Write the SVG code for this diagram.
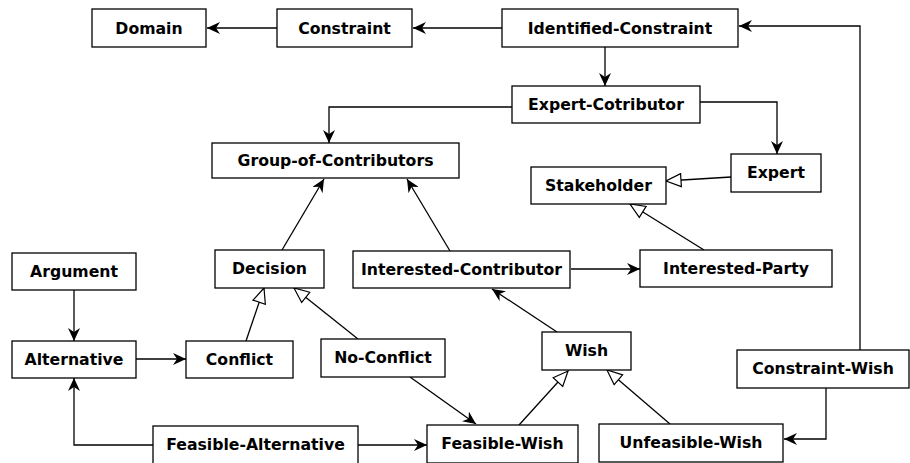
<svg xmlns="http://www.w3.org/2000/svg" width="910" height="463" viewBox="0 0 910 463">
<style>
.box{fill:#fff;stroke:#000;stroke-width:1.3}
.lbl{font-family:"DejaVu Sans",sans-serif;font-weight:bold;font-size:15.7px;text-anchor:middle;fill:#000}
.c{fill:none;stroke:#000;stroke-width:1.3}
.a{marker-end:url(#arr)}
.g{marker-end:url(#tri)}
</style>
<defs>
<marker id="arr" viewBox="0 0 13 12" refX="13" refY="6" markerWidth="13" markerHeight="12" markerUnits="userSpaceOnUse" orient="auto">
<path d="M0,0 L13,6 L0,12 L4,6 z" fill="#000"/>
</marker>
<marker id="tri" viewBox="-1 -1 17 15" refX="15" refY="6.5" markerWidth="17" markerHeight="15" markerUnits="userSpaceOnUse" orient="auto">
<path d="M0,0 L15,6.5 L0,13 z" fill="#fff" stroke="#000" stroke-width="1.2"/>
</marker>
</defs>
<rect width="910" height="463" fill="#fff"/>
<g id="connectors">
<path class="c a" d="M502,28 L413,28"/>
<path class="c a" d="M277,28 L207,28"/>
<path class="c a" d="M605,47 L605,86"/>
<path class="c a" d="M860,351 L860,26 L739,26"/>
<path class="c a" d="M700,102 L777,102 L777,154"/>
<path class="c a" d="M512,107 L329,107 L329,143"/>
<path class="c g" d="M731,177 L666,181"/>
<path class="c g" d="M704,250 L630,204"/>
<path class="c a" d="M571,269 L640,269"/>
<path class="c a" d="M282,250 L324,179"/>
<path class="c a" d="M450,251 L407,179"/>
<path class="c a" d="M74,290 L74,341"/>
<path class="c a" d="M136,359 L186,359"/>
<path class="c g" d="M246,341 L264,288"/>
<path class="c g" d="M358,339 L294,288"/>
<path class="c a" d="M557,332 L492,289"/>
<path class="c a" d="M410,377 L476,424"/>
<path class="c g" d="M519,425 L568,371"/>
<path class="c g" d="M670,424 L607,370"/>
<path class="c a" d="M826,388 L826,439 L784,439"/>
<path class="c a" d="M358,445 L427,445"/>
<path class="c a" d="M153,445 L74,445 L74,378"/>
</g>
<g id="domain"><rect class="box" x="92" y="9" width="114" height="38"/><text class="lbl" x="149" y="33.5">Domain</text></g>
<g id="constraint"><rect class="box" x="277" y="9" width="135" height="38"/><text class="lbl" x="344.5" y="33.5">Constraint</text></g>
<g id="identified-constraint"><rect class="box" x="502" y="9" width="236" height="38"/><text class="lbl" x="620" y="33.5">Identified-Constraint</text></g>
<g id="expert-cotributor"><rect class="box" x="512" y="86" width="188" height="37"/><text class="lbl" x="606" y="110">Expert-Cotributor</text></g>
<g id="group-of-contributors"><rect class="box" x="212" y="143" width="247" height="35"/><text class="lbl" x="335.5" y="166">Group-of-Contributors</text></g>
<g id="stakeholder"><rect class="box" x="531" y="167" width="135" height="37"/><text class="lbl" x="598.5" y="191">Stakeholder</text></g>
<g id="expert"><rect class="box" x="731" y="154" width="90" height="38"/><text class="lbl" x="776" y="178">Expert</text></g>
<g id="interested-party"><rect class="box" x="640" y="250" width="192" height="37"/><text class="lbl" x="736" y="274">Interested-Party</text></g>
<g id="interested-contributor"><rect class="box" x="353" y="251" width="217" height="37"/><text class="lbl" x="461.5" y="275">Interested-Contributor</text></g>
<g id="decision"><rect class="box" x="215" y="250" width="109" height="38"/><text class="lbl" x="269.5" y="274">Decision</text></g>
<g id="argument"><rect class="box" x="12" y="253" width="124" height="37"/><text class="lbl" x="74" y="277">Argument</text></g>
<g id="alternative"><rect class="box" x="12" y="341" width="124" height="37"/><text class="lbl" x="74" y="365">Alternative</text></g>
<g id="conflict"><rect class="box" x="186" y="341" width="107" height="37"/><text class="lbl" x="239.5" y="365">Conflict</text></g>
<g id="no-conflict"><rect class="box" x="321" y="339" width="124" height="38"/><text class="lbl" x="383" y="363">No-Conflict</text></g>
<g id="wish"><rect class="box" x="542" y="332" width="89" height="38"/><text class="lbl" x="586.5" y="356">Wish</text></g>
<g id="constraint-wish"><rect class="box" x="737" y="350" width="172" height="38"/><text class="lbl" x="823" y="374">Constraint-Wish</text></g>
<g id="feasible-alternative"><rect class="box" x="153" y="426" width="205" height="40"/><text class="lbl" x="255.5" y="450">Feasible-Alternative</text></g>
<g id="feasible-wish"><rect class="box" x="427" y="425" width="151" height="38"/><text class="lbl" x="502.5" y="449">Feasible-Wish</text></g>
<g id="unfeasible-wish"><rect class="box" x="599" y="424" width="184" height="38"/><text class="lbl" x="691" y="448">Unfeasible-Wish</text></g>
</svg>
